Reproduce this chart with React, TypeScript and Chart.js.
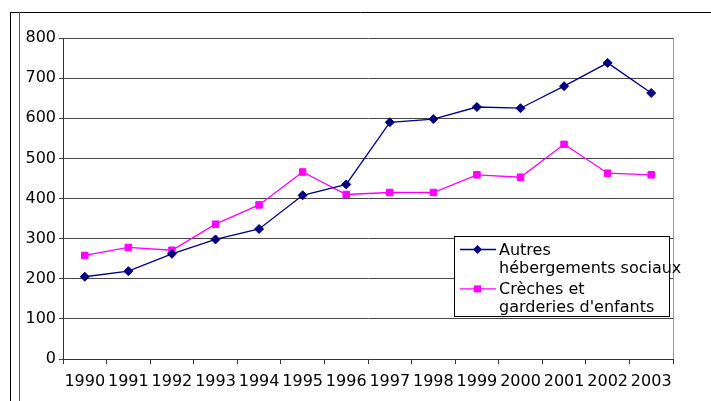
import React, { useEffect, useRef } from "react";
import { Chart, registerables } from "chart.js";

Chart.register(...registerables);

const years = ["1990", "1991", "1992", "1993", "1994", "1995", "1996", "1997", "1998", "1999", "2000", "2001", "2002", "2003"];
const autres = [205, 219, 262, 298, 324, 408, 435, 590, 598, 628, 625, 680, 738, 663];
const creches = [258, 278, 271, 336, 384, 466, 410, 415, 415, 459, 453, 535, 463, 459];
const yMin = 0;
const yMax = 800;
const yStep = 100;
const seriesLabels = [
  ["Autres", "hébergements sociaux"],
  ["Crèches et", "garderies d'enfants"],
];

const FONT = "'DejaVu Sans', Verdana, sans-serif";
const FS = 16;

const framePlugin = {
  id: "frame",
  beforeDraw(chart: any) {
    const ctx = chart.ctx;
    ctx.save();
    ctx.fillStyle = "#ffffff";
    ctx.fillRect(0, 0, chart.width, chart.height);
    ctx.strokeStyle = "#000000";
    ctx.lineWidth = 1;
    ctx.beginPath();
    ctx.moveTo(10, 12.5);
    ctx.lineTo(chart.width, 12.5);
    ctx.moveTo(10.5, 12);
    ctx.lineTo(10.5, chart.height);
    ctx.stroke();
    ctx.strokeStyle = "#555555";
    ctx.beginPath();
    ctx.moveTo(19.5, 12);
    ctx.lineTo(19.5, chart.height);
    ctx.stroke();
    ctx.restore();
  },
  beforeDatasetsDraw(chart: any) {
    const { ctx, chartArea } = chart;
    ctx.save();
    ctx.strokeStyle = "#9a9a9a";
    ctx.lineWidth = 1;
    ctx.beginPath();
    const r = Math.round(chartArea.right) + 0.5;
    ctx.moveTo(r, Math.round(chartArea.top));
    ctx.lineTo(r, Math.round(chartArea.bottom));
    ctx.stroke();
    ctx.restore();
  },
};

const legendPlugin = {
  id: "boxLegend",
  afterDraw(chart: any) {
    const ctx = chart.ctx;
    const bx = 454.5, by = 236.5, bw = 215, bh = 80;
    ctx.save();
    ctx.fillStyle = "#ffffff";
    ctx.fillRect(bx, by, bw, bh);
    ctx.strokeStyle = "#000000";
    ctx.lineWidth = 1;
    ctx.strokeRect(bx, by, bw, bh);
    ctx.font = `${FS}px ${FONT}`;
    ctx.textBaseline = "alphabetic";
    ctx.textAlign = "left";
    chart.data.datasets.forEach((ds: any, i: number) => {
      const rowY = 249.5 + i * 39.4;
      ctx.strokeStyle = ds.borderColor;
      ctx.lineWidth = ds.borderWidth;
      ctx.beginPath();
      ctx.moveTo(460, rowY);
      ctx.lineTo(496, rowY);
      ctx.stroke();
      ctx.fillStyle = ds.pointBackgroundColor;
      const cx = 477.5;
      if (ds.pointStyle === "rectRot") {
        const r = 4.5;
        ctx.beginPath();
        ctx.moveTo(cx, rowY - r);
        ctx.lineTo(cx + r, rowY);
        ctx.lineTo(cx, rowY + r);
        ctx.lineTo(cx - r, rowY);
        ctx.closePath();
        ctx.fill();
      } else {
        ctx.fillRect(cx - 3.5, rowY - 3.5, 7, 7);
      }
      ctx.fillStyle = "#000000";
      const lines = seriesLabels[i];
      lines.forEach((t: string, j: number) => {
        ctx.fillText(t, 499, rowY + 5.5 + j * 17.6);
      });
    });
    ctx.restore();
  },
};

export default function App() {
  const ref = useRef<HTMLCanvasElement | null>(null);
  useEffect(() => {
    if (!ref.current) return;
    const chart = new Chart(ref.current, {
      type: "line",
      data: {
        labels: years,
        datasets: [
          {
            label: seriesLabels[0].join(" "),
            data: autres,
            borderColor: "#000080",
            backgroundColor: "#000080",
            pointBackgroundColor: "#000080",
            pointBorderColor: "#000080",
            borderWidth: 1.3,
            pointStyle: "rectRot",
            pointRadius: 4.5,
            pointBorderWidth: 1,
            tension: 0,
          },
          {
            label: seriesLabels[1].join(" "),
            data: creches,
            borderColor: "#ff00ff",
            backgroundColor: "#ff00ff",
            pointBackgroundColor: "#ff00ff",
            pointBorderColor: "#ff00ff",
            borderWidth: 1.3,
            pointStyle: "rect",
            pointRadius: 4.6,
            pointBorderWidth: 1,
            tension: 0,
          },
        ],
      },
      options: {
        responsive: false,
        animation: false,
        layout: { padding: { left: 0, top: 38, right: 38, bottom: 0 } },
        plugins: {
          legend: { display: false },
          tooltip: { enabled: false },
          title: { display: false },
        },
        scales: {
          x: {
            type: "category",
            offset: true,
            grid: {
              offset: true,
              drawOnChartArea: false,
              drawTicks: true,
              tickLength: 5,
              color: "#333333",
            },
            border: { color: "#333333", width: 1 },
            ticks: {
              color: "#000000",
              maxRotation: 0,
              autoSkip: false,
              padding: 8,
              font: { family: FONT, size: FS },
            },
            afterFit(scale: any) {
              scale.height = 42;
            },
          },
          y: {
            min: yMin,
            max: yMax,
            grid: {
              color: "#444444",
              tickLength: 4,
              drawTicks: true,
            },
            border: { color: "#333333", width: 1 },
            ticks: {
              stepSize: yStep,
              color: "#000000",
              padding: 3,
              font: { family: FONT, size: FS },
            },
            afterFit(scale: any) {
              scale.width = 63;
            },
          },
        },
      },
      plugins: [framePlugin, legendPlugin],
    } as any);
    return () => chart.destroy();
  }, []);
  return (
    <div style={{ position: "absolute", left: 0, top: 0, width: 711, height: 401 }}>
      <canvas ref={ref} width={711} height={401} style={{ width: 711, height: 401, display: "block" }} />
    </div>
  );
}
